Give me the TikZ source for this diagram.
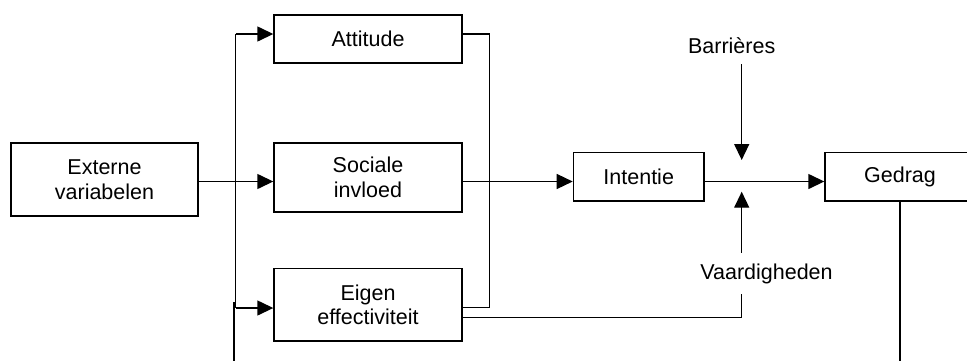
\documentclass[tikz,border=0pt]{standalone}
\usepackage{fontspec}
\setmainfont{Liberation Sans}
\usetikzlibrary{arrows.meta}
\begin{document}
\begin{tikzpicture}[x=0.5pt,y=-0.5pt,line width=0.7pt,
	font=\fontsize{10.75pt}{12.25pt}\selectfont,
	box/.style={draw,inner sep=0pt,align=center},
	tag/.style={inner sep=5pt,anchor=base},
	arr/.style={-{Triangle[length=8pt,width=7.5pt]}}]
	\useasboundingbox (0,0) rectangle (967,360);
	\clip (0,0) rectangle (967,360);
	\node[box,minimum width=93.5pt,minimum height=36.5pt] (ext) at (104.5,179.5) {Externe\\variabelen};
	\node[box,minimum width=94pt,minimum height=24pt] (att) at (368,38.8) {Attitude};
	\node[box,minimum width=94pt,minimum height=34.5pt] (soc) at (368,177.5) {Sociale\\invloed};
	\node[box,minimum width=94pt,minimum height=36.3pt] (eig) at (368,304.7) {Eigen\\effectiviteit};
	\node[box,minimum width=65.3pt,minimum height=24.3pt] (int) at (638.7,176.7) {Intentie};
	\node[box,minimum width=75pt,minimum height=24.3pt] (ged) at (900,176.7) {Gedrag};
	\node[tag] (bar) at (731.7,53.3) {Barrières};
	\node[tag] (vaa) at (766.5,279) {Vaardigheden};
	% split and join points
	\coordinate (split) at (235.7,181.5);
	\coordinate (bustop) at (235.7,34);
	\coordinate (busbot) at (235.7,308);
	\coordinate (coltop) at (489.3,34);
	\coordinate (colbot) at (489.3,307.7);
	\coordinate (bartip) at (741.7,160);
	\coordinate (vaatip) at (741.7,191.7);
	\coordinate (eigout) at (741.7,317.3);
	\coordinate (fbjoin) at (234,302);
	\coordinate (fbleft) at (234,362);
	\coordinate (fbright) at (900,362);
	\draw[arr] (ext.east |- split) -- (split -| soc.west);
	\draw (bustop) -- (busbot);
	\draw[arr] (bustop) -- (bustop -| att.west);
	\draw[arr] (busbot) -- (busbot -| eig.west);
	\draw (coltop -| att.east) -- (coltop) -- (colbot) -- (colbot -| eig.east);
	\draw[arr] (soc.east |- split) -- (split -| int.west);
	\draw[arr] (int.east |- split) -- (split -| ged.west);
	\draw[arr] (bar.south -| bartip) -- (bartip);
	\draw[arr] (vaa.north -| vaatip) -- (vaatip);
	\draw (vaa.south -| eigout) -- (eigout) -- (eigout -| eig.east);
	\draw (ged.south) -- (fbright);
	\draw (fbleft) -- (fbjoin);
\end{tikzpicture}
\end{document}
